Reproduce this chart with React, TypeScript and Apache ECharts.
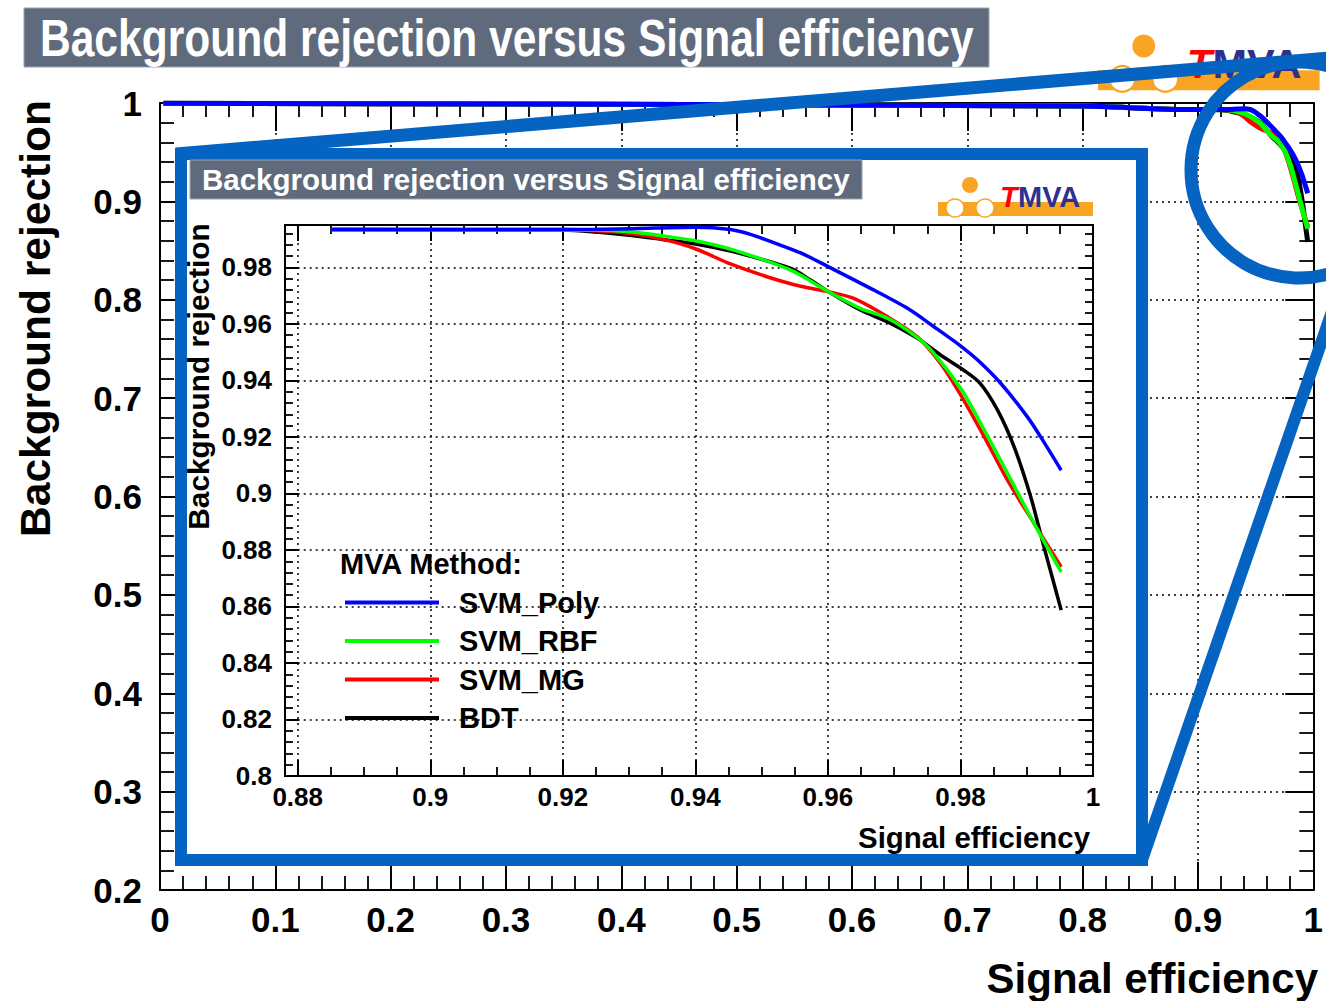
import React, { useEffect, useRef } from "react";
import * as echarts from "echarts";

// ---- data -----------------------------------------------------------
const methodNames = ["SVM_Poly", "SVM_RBF", "SVM_MG", "BDT"];
const methodColors: Record<string, string> = {
  SVM_Poly: "#0000ff",
  SVM_RBF: "#00ff00",
  SVM_MG: "#ff0000",
  BDT: "#000000",
};
const drawOrder = ["BDT", "SVM_MG", "SVM_RBF", "SVM_Poly"];

// signal efficiency / background rejection (zoomed region)
const svmPolyEff = [0.885, 0.925, 0.934, 0.94, 0.9453, 0.9483, 0.952, 0.9559, 0.9601, 0.966, 0.972, 0.976, 0.9802, 0.9826, 0.9861, 0.9901, 0.9921, 0.9952];
const svmPolyRej = [0.9934, 0.9935, 0.9939, 0.9942, 0.9934, 0.9917, 0.9886, 0.9851, 0.9802, 0.9731, 0.9655, 0.959, 0.9519, 0.9472, 0.9389, 0.9271, 0.92, 0.9082];

const svmRbfEff = [0.885, 0.925, 0.93, 0.935, 0.94, 0.9458, 0.9544, 0.9601, 0.9649, 0.969, 0.973, 0.976, 0.9802, 0.9836, 0.9871, 0.9911, 0.9952];
const svmRbfRej = [0.9934, 0.9932, 0.9926, 0.9912, 0.9894, 0.9861, 0.979, 0.9714, 0.9655, 0.962, 0.956, 0.9496, 0.9366, 0.9224, 0.9071, 0.8894, 0.8722];

const svmMgEff = [0.885, 0.92, 0.925, 0.93, 0.935, 0.94, 0.9453, 0.9508, 0.9559, 0.9601, 0.9639, 0.969, 0.9735, 0.977, 0.9802, 0.9836, 0.9871, 0.9911, 0.9952];
const svmMgRej = [0.9934, 0.9934, 0.993, 0.9921, 0.99, 0.9866, 0.9812, 0.9767, 0.9733, 0.9714, 0.969, 0.9625, 0.9554, 0.946, 0.9342, 0.92, 0.9047, 0.8894, 0.874];

const bdtEff = [0.885, 0.92, 0.925, 0.93, 0.935, 0.94, 0.9458, 0.9544, 0.9574, 0.9601, 0.9649, 0.969, 0.9735, 0.977, 0.9805, 0.983, 0.9856, 0.9881, 0.9906, 0.9926, 0.9952];
const bdtRej = [0.9934, 0.9932, 0.9925, 0.9914, 0.9899, 0.9883, 0.9855, 0.9796, 0.9755, 0.9714, 0.9649, 0.9607, 0.9549, 0.949, 0.9436, 0.9389, 0.9295, 0.9165, 0.8988, 0.8811, 0.8587];

// low-efficiency part, visible only on the full-range plot
const leadEff = [0.003, 0.8];
const leadRej = [0.9997, 0.997];

// axes
const outerXRange = [0, 1];
const outerYRange = [0.2, 1];
const outerStep = 0.1;
const insetXRange = [0.88, 1];
const insetYRange = [0.8, 0.995];
const insetStep = 0.02;

const titleText = "Background rejection versus Signal efficiency";
const xTitle = "Signal efficiency";
const yTitle = "Background rejection";
const legendTitle = "MVA Method:";

// ---- helpers --------------------------------------------------------
const FONT = "'Liberation Sans', Arial, Helvetica, sans-serif";
const ANNOT = "#0563c1";
const ORANGE = "#f9a422";

const zip = (xs: number[], ys: number[]) => xs.map((x, i) => [x, ys[i]]);
const curves: Record<string, number[][]> = {
  SVM_Poly: zip(svmPolyEff, svmPolyRej),
  SVM_RBF: zip(svmRbfEff, svmRbfRej),
  SVM_MG: zip(svmMgEff, svmMgRej),
  BDT: zip(bdtEff, bdtRej),
};
const lead = zip(leadEff, leadRej);

function logo(x: number, y: number, s: number, z: number) {
  return {
    type: "group",
    x,
    y,
    scaleX: s,
    scaleY: s,
    z,
    children: [
      { type: "rect", z, shape: { x: 0, y: 24, width: 155, height: 14 }, style: { fill: ORANGE } },
      { type: "circle", z, shape: { cx: 32, cy: 7, r: 8 }, style: { fill: ORANGE } },
      { type: "circle", z: z + 1, shape: { cx: 17, cy: 30, r: 9 }, style: { fill: "#fff", stroke: ORANGE, lineWidth: 1.5 } },
      { type: "circle", z: z + 1, shape: { cx: 47, cy: 30, r: 9 }, style: { fill: "#fff", stroke: ORANGE, lineWidth: 1.5 } },
      { type: "rect", z: z + 1, shape: { x: 22, y: 18, width: 20, height: 3 }, style: { fill: "#fff" } },
      {
        type: "text", z: z + 1, x: 62, y: 19,
        style: { text: "T", fontSize: 29, fontWeight: "bold", fontStyle: "italic", fontFamily: FONT, fill: "#ff0000", align: "left", verticalAlign: "middle", textAlign: "left", textVerticalAlign: "middle" },
      },
      {
        type: "text", z: z + 1, x: 80, y: 19,
        style: { text: "MVA", fontSize: 29, fontWeight: "bold", fontFamily: FONT, fill: "#2e3192", align: "left", verticalAlign: "middle", textAlign: "left", textVerticalAlign: "middle" },
      },
    ],
  };
}

function txt(x: number, y: number, text: string, size: number, opts: any = {}) {
  const { align = "left", vAlign = "middle", fill = "#000", rotation = 0, scaleX = 1, z = 10 } = opts;
  return {
    type: "text",
    x,
    y,
    rotation,
    scaleX,
    z,
    style: {
      text,
      fontSize: size,
      fontWeight: "bold",
      fontFamily: FONT,
      fill,
      align,
      verticalAlign: vAlign,
      textAlign: align,
      textVerticalAlign: vAlign,
    },
  };
}

const blackLine = { color: "#000", width: 2 };
const dotted = { color: "#000", width: 1.5, type: [2, 4] };

function xAx(grid: number, range: number[], pos: string, big: boolean, labels: boolean, split: boolean, minorN: number, z: number) {
  return {
    type: "value",
    gridIndex: grid,
    position: pos,
    min: range[0],
    max: range[1],
    interval: big ? outerStep : insetStep,
    z,
    axisLine: { show: big, onZero: false, lineStyle: blackLine },
    axisTick: { show: true, inside: true, length: big ? 28 : 16, lineStyle: blackLine },
    minorTick: { show: true, splitNumber: minorN, length: big ? 14 : 9, lineStyle: { color: "#000", width: 1.8 } },
    minorSplitLine: { show: false },
    splitLine: { show: split, lineStyle: dotted },
    axisLabel: {
      show: labels,
      fontSize: big ? 35 : 26,
      fontWeight: "bold",
      fontFamily: FONT,
      color: "#000",
      margin: big ? 12 : 8,
      showMaxLabel: true,
    },
  };
}

function yAx(grid: number, range: number[], pos: string, big: boolean, labels: boolean, split: boolean, minorN: number, z: number, offset = 0) {
  return {
    type: "value",
    gridIndex: grid,
    position: pos,
    offset,
    min: range[0],
    max: range[1],
    interval: big ? outerStep : insetStep,
    z,
    axisLine: { show: big, onZero: false, lineStyle: blackLine },
    axisTick: { show: true, inside: true, length: big ? 28 : 14, lineStyle: blackLine },
    minorTick: { show: true, splitNumber: minorN, length: big ? 14 : 8, lineStyle: { color: "#000", width: 1.8 } },
    minorSplitLine: { show: false },
    splitLine: { show: split, lineStyle: dotted },
    axisLabel: {
      show: labels,
      fontSize: big ? 35 : 26,
      fontWeight: "bold",
      fontFamily: FONT,
      color: "#000",
      margin: big ? 18 : 13,
      showMaxLabel: big,
    },
  };
}

const outerSeries = drawOrder.map((name) => ({
  type: "line",
  name,
  xAxisIndex: 0,
  yAxisIndex: 0,
  data: [...lead, ...curves[name]],
  symbol: "none",
  showSymbol: false,
  smooth: 0.3,
  clip: true,
  z: 2,
  lineStyle: { color: methodColors[name], width: 5 },
  itemStyle: { color: methodColors[name] },
}));

const insetSeries = drawOrder.map((name) => ({
  type: "line",
  name,
  xAxisIndex: 2,
  yAxisIndex: 2,
  data: curves[name],
  symbol: "none",
  showSymbol: false,
  smooth: 0.3,
  clip: true,
  z: 8,
  lineStyle: { color: methodColors[name], width: 3.5 },
  itemStyle: { color: methodColors[name] },
}));

const option: any = {
  animation: false,
  backgroundColor: "#ffffff",
  grid: [
    { left: 160, top: 103, width: 1160, height: 787, containLabel: false },
    { left: 297.7, top: 225, width: 795.3, height: 551, containLabel: false },
  ],
  xAxis: [
    xAx(0, outerXRange, "bottom", true, true, true, 5, 1),
    xAx(0, outerXRange, "top", true, false, false, 5, 1),
    xAx(1, insetXRange, "bottom", false, true, true, 4, 7),
    xAx(1, insetXRange, "top", false, false, false, 4, 7),
  ],
  yAxis: [
    yAx(0, outerYRange, "left", true, true, true, 5, 1),
    yAx(0, outerYRange, "right", true, false, false, 5, 1),
    yAx(1, insetYRange, "left", false, true, true, 5, 7, 12.7),
    yAx(1, insetYRange, "right", false, false, false, 5, 7),
  ],
  legend: {
    data: methodNames,
    orient: "vertical",
    left: 345,
    top: 588,
    padding: 0,
    itemWidth: 94,
    itemHeight: 4,
    itemGap: 9.5,
    icon: "rect",
    selectedMode: false,
    z: 9,
    textStyle: { fontSize: 29, fontWeight: "bold", fontFamily: FONT, color: "#000", padding: [0, 0, 0, 15] },
  },
  series: [...outerSeries, ...insetSeries],
  graphic: {
    elements: [
      // outer title
      { type: "rect", z: 4, shape: { x: 24, y: 8, width: 965, height: 59 }, style: { fill: "#5f6b7c", stroke: "#9aa4b1", lineWidth: 1 } },
      txt(40, 38, titleText, 52, { fill: "#fff", scaleX: 0.818, z: 5 }),
      // outer logo
      logo(1098, 36, 1.43, 3),
      // outer axis titles
      txt(35, 318.5, yTitle, 42.5, { align: "center", rotation: Math.PI / 2, z: 3 }),
      txt(1318, 978, xTitle, 42, { align: "right", z: 3 }),
      // inset panel
      { type: "rect", z: 5, shape: { x: 181, y: 154, width: 961, height: 706 }, style: { fill: "#fff", stroke: ANNOT, lineWidth: 12 } },
      { type: "rect", z: 6, shape: { x: 190, y: 160, width: 672, height: 39 }, style: { fill: "#5f6b7c", stroke: "#9aa4b1", lineWidth: 1 } },
      txt(202, 179.5, titleText, 29.5, { fill: "#fff", z: 7 }),
      logo(938, 178, 1, 7),
      { type: "rect", z: 8, shape: { x: 285, y: 225, width: 808, height: 551 }, style: { fill: "none", stroke: "#000", lineWidth: 2 } },
      txt(198, 376.5, yTitle, 29.8, { align: "center", rotation: Math.PI / 2, z: 8 }),
      txt(1090, 837, xTitle, 29.4, { align: "right", z: 8 }),
      txt(340, 564, legendTitle, 29, { z: 9 }),
      // zoom annotations
      { type: "line", z: 20, shape: { x1: 176, y1: 154, x2: 1330, y2: 58 }, style: { stroke: ANNOT, lineWidth: 13 } },
      { type: "circle", z: 20, shape: { cx: 1299, cy: 170, r: 108 }, style: { fill: "none", stroke: ANNOT, lineWidth: 13 } },
      { type: "line", z: 20, shape: { x1: 1142, y1: 860, x2: 1336, y2: 300 }, style: { stroke: ANNOT, lineWidth: 12 } },
    ],
  },
};

export default function App() {
  const ref = useRef<HTMLDivElement>(null);
  useEffect(() => {
    if (!ref.current) return;
    const chart = echarts.init(ref.current, null, { renderer: "svg" });
    chart.setOption(option);
    return () => chart.dispose();
  }, []);
  return (
    <div
      ref={ref}
      style={{ position: "fixed", left: 0, top: 0, width: 1326, height: 1001, background: "#fff" }}
    />
  );
}
